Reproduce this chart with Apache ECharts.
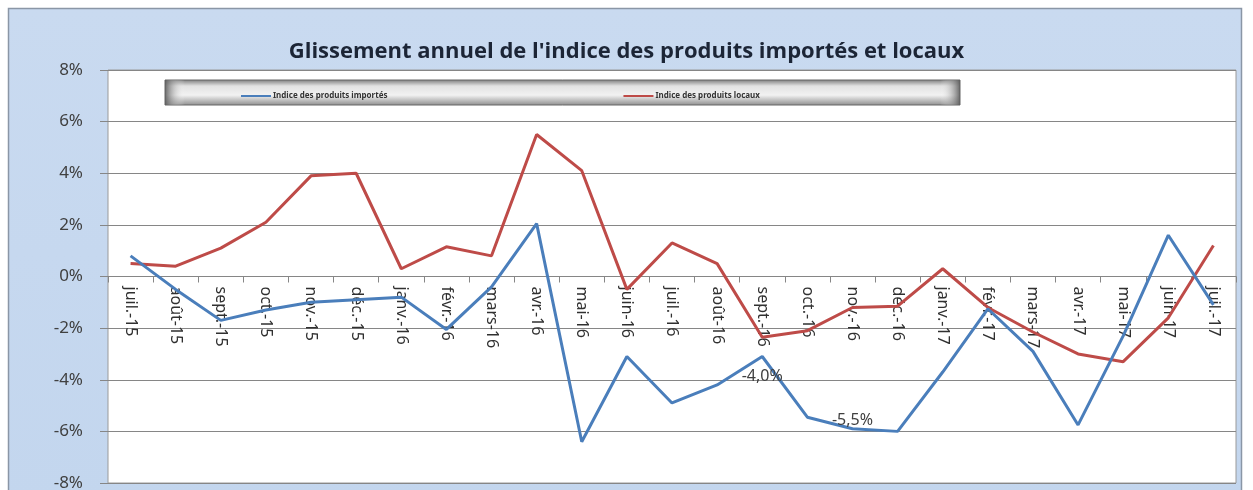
<!DOCTYPE html>
<html>
<head>
<meta charset="utf-8">
<script src="https://cdn.jsdelivr.net/npm/echarts@6/dist/echarts.min.js"></script>
<style>html,body{margin:0;padding:0;background:#fff;}#c{width:1253px;height:490px;}</style>
</head>
<body>
<div id="c"></div>
<script>
const categories = ['juil.-15','août-15','sept.-15','oct.-15','nov.-15','déc.-15','janv.-16','févr.-16','mars-16','avr.-16','mai-16','juin-16','juil.-16','août-16','sept.-16','oct.-16','nov.-16','déc.-16','janv.-17','févr.-17','mars-17','avr.-17','mai-17','juin-17','juil.-17'];
const importes = [0.8,-0.5,-1.7,-1.3,-1.0,-0.9,-0.8,-2.05,-0.4,2.05,-6.4,-3.1,-4.9,-4.2,-3.1,-5.45,-5.9,-6.0,-3.7,-1.25,-2.9,-5.75,-2.3,1.6,-1.1];
const locaux = [0.5,0.4,1.1,2.1,3.9,4.0,0.3,1.15,0.8,5.5,4.1,-0.5,1.3,0.5,-2.35,-2.1,-1.2,-1.15,0.3,-1.2,-2.15,-3.0,-3.3,-1.6,1.2];
const yTicks = {min:-8, max:8, interval:2};
const annotations = [{cat:'sept.-16', text:'-4,0%'}, {cat:'nov.-16', text:'-5,5%'}];
const seriesNames = ['Indice des produits importés','Indice des produits locaux'];

const annotStyle = {
  'sept.-16': {position:'bottom', distance:12, offset:[12,2]},
  'nov.-16': {position:'top', distance:0, offset:[22,8]}
};
const blueData = importes.map((v,i)=>{
  const a = annotations.find(x=>x.cat===categories[i]);
  if(!a) return v;
  const s = annotStyle[a.cat];
  return {value:v, label:{show:true, formatter:a.text, position:s.position, distance:s.distance, offset:s.offset, color:'#404040', fontSize:16, fontFamily:'Noto Sans'}};
});

const W = 1253, H = 490;
const gridTop = 70, gridBottom = 7;
const plotH = H - gridTop - gridBottom;
const zeroFromBottom = plotH * (0 - yTicks.min) / (yTicks.max - yTicks.min);

const chart = echarts.init(document.getElementById('c'), null, {renderer:'canvas'});
chart.setOption({
  animation:false,
  backgroundColor:'#ffffff',
  graphic:[
    {type:'rect', z:-10, shape:{x:8.5,y:8.5,width:1233,height:490}, style:{fill:new echarts.graphic.LinearGradient(0,0,0,1,[{offset:0,color:'#c9daf0'},{offset:1,color:'#c3d6ee'}]), stroke:'#8a96a6', lineWidth:1.5}},
    {type:'rect', z:3, shape:{x:165,y:80,width:795,height:25}, style:{fill:new echarts.graphic.LinearGradient(0,0,0,1,[{offset:0,color:'#7a7a7a'},{offset:0.25,color:'#e2e2e2'},{offset:0.6,color:'#f2f2f2'},{offset:1,color:'#8c8c8c'}]), stroke:'#666', lineWidth:1}},
    {type:'rect', z:3, shape:{x:165,y:80,width:795,height:25}, style:{fill:new echarts.graphic.LinearGradient(0,0,1,0,[{offset:0,color:'rgba(90,90,90,0.9)'},{offset:0.025,color:'rgba(255,255,255,0)'},{offset:0.975,color:'rgba(255,255,255,0)'},{offset:1,color:'rgba(90,90,90,0.9)'}])}}
  ],
  title:{
    text:"Glissement annuel de l'indice des produits importés et locaux",
    left:'center', top:36,
    textStyle:{fontFamily:'Open Sans', fontWeight:'bold', fontSize:22, color:'#1c2536'}
  },
  legend:{
    data:seriesNames,
    left:236, top:87, z:5,
    itemGap:236,
    itemWidth:30, itemHeight:2,
    icon:'rect',
    textStyle:{fontFamily:'Noto Sans', fontSize:8, fontWeight:'bold', color:'#333', padding:[0,0,0,-3]}
  },
  grid:{left:108, right:17, top:gridTop, bottom:gridBottom, containLabel:false, outerBoundsMode:'none', show:true, backgroundColor:'#ffffff', borderColor:'#9a9a9a', borderWidth:1},
  xAxis:{
    type:'category', data:categories, boundaryGap:true, position:'bottom',
    offset:-zeroFromBottom,
    axisLine:{onZero:false, lineStyle:{color:'#868686', width:1}},
    axisTick:{show:true, length:6, lineStyle:{color:'#868686'}},
    axisLabel:{rotate:-90, margin:10, fontSize:16, fontFamily:'Noto Sans', color:'#303030', interval:0},
    splitLine:{show:false}
  },
  yAxis:{
    type:'value', min:yTicks.min, max:yTicks.max, interval:yTicks.interval,
    axisLine:{show:false},
    axisTick:{show:true, length:8, inside:false, lineStyle:{color:'#868686'}},
    axisLabel:{formatter:'{value}%', fontSize:17, fontFamily:'Noto Sans', color:'#404040', margin:25},
    splitLine:{show:true, lineStyle:{color:'#868686', width:1}}
  },
  series:[
    {name:seriesNames[0], type:'line', data:blueData, symbol:'circle', symbolSize:0.01, showSymbol:true, label:{show:false}, labelLayout:{hideOverlap:false}, lineStyle:{color:'#4a7ebb', width:3}, itemStyle:{color:'#4a7ebb'}, z:3},
    {name:seriesNames[1], type:'line', data:locaux, symbol:'none', lineStyle:{color:'#be4b48', width:3}, itemStyle:{color:'#be4b48'}, z:2}
  ]
});
</script>
</body>
</html>
